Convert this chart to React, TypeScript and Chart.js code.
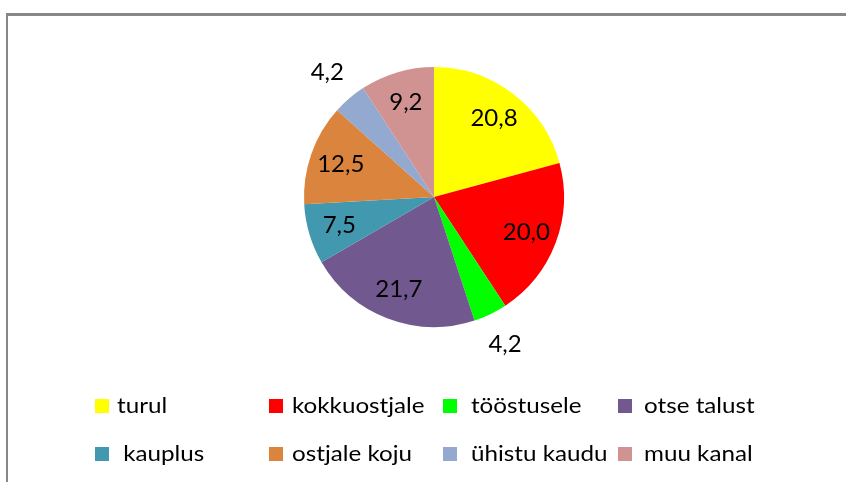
import React, { useEffect, useRef } from "react";
import { Chart, registerables } from "chart.js";

Chart.register(...registerables);

const categories = ["turul", "kokkuostjale", "tööstusele", "otse talust", " kauplus", "ostjale koju", "ühistu kaudu", "muu kanal"];
const shares = [20.8, 20.0, 4.2, 21.7, 7.5, 12.5, 4.2, 9.2];
const sliceColors = ["#FFFF00", "#FF0000", "#00FF00", "#71588F", "#4198AF", "#DB843D", "#93A9CF", "#D19392"];

// layout constants
const LEGEND_BOX_X = [95, 269, 443, 618];
const LEGEND_TEXT_X = [117, 292, 471, 644];
const LEGEND_BASELINE = [413, 461];
const BOX = 14;
const FONT = "Lato, 'Open Sans', sans-serif";

function drawText(ctx: CanvasRenderingContext2D, text: string, x: number, y: number, align: CanvasTextAlign, stretch: number) {
  ctx.save();
  ctx.translate(x, y);
  ctx.scale(stretch, 1);
  ctx.textAlign = align;
  ctx.fillText(text, 0, 0);
  ctx.restore();
}

const framePlugin = {
  id: "frame",
  beforeDraw(chart: any) {
    const ctx = chart.ctx as CanvasRenderingContext2D;
    ctx.save();
    ctx.fillStyle = "#FFFFFF";
    ctx.fillRect(0, 0, chart.width, chart.height);
    ctx.fillStyle = "#878787";
    ctx.fillRect(6, 13, chart.width - 6, 3);
    ctx.fillRect(6, 13, 2, chart.height - 13);
    ctx.restore();
  },
};

const labelPlugin = {
  id: "sliceLabels",
  afterDatasetsDraw(chart: any) {
    const ctx = chart.ctx as CanvasRenderingContext2D;
    const meta = chart.getDatasetMeta(0);
    const values = chart.data.datasets[0].data as number[];
    ctx.save();
    ctx.fillStyle = "#000000";
    ctx.font = `24px ${FONT}`;
    ctx.textBaseline = "middle";
    meta.data.forEach((arc: any, i: number) => {
      const mid = (arc.startAngle + arc.endAngle) / 2;
      const v = values[i];
      const f = v < 5 ? 1.26 : 0.76;
      const r = arc.outerRadius * f;
      const x = arc.x + Math.cos(mid) * r;
      const y = arc.y + Math.sin(mid) * r;
      drawText(ctx, v.toFixed(1).replace(".", ","), x, y, "center", 1.0);
    });
    ctx.restore();
  },
};

const legendPlugin = {
  id: "gridLegend",
  afterDraw(chart: any) {
    const ctx = chart.ctx as CanvasRenderingContext2D;
    const labels = chart.data.labels as string[];
    const cols = chart.data.datasets[0].backgroundColor as string[];
    ctx.save();
    ctx.font = `22px ${FONT}`;
    ctx.textBaseline = "alphabetic";
    labels.forEach((lab, i) => {
      const c = i % 4;
      const row = Math.floor(i / 4);
      const base = LEGEND_BASELINE[row];
      ctx.fillStyle = cols[i];
      ctx.fillRect(LEGEND_BOX_X[c], base - BOX, BOX, BOX);
      ctx.fillStyle = "#000000";
      drawText(ctx, lab, LEGEND_TEXT_X[c], base, "left", 1.1);
    });
    ctx.restore();
  },
};

export default function App() {
  const ref = useRef<HTMLCanvasElement | null>(null);
  useEffect(() => {
    if (!ref.current) return;
    const chart = new Chart(ref.current, {
      type: "pie",
      data: {
        labels: categories,
        datasets: [
          {
            data: shares,
            backgroundColor: sliceColors,
            borderWidth: 0,
          },
        ],
      },
      options: {
        responsive: false,
        animation: false,
        layout: { padding: { top: 67, bottom: 155, left: 22, right: 0 } },
        plugins: {
          legend: { display: false },
          tooltip: { enabled: false },
        },
      },
      plugins: [framePlugin, labelPlugin, legendPlugin],
    });
    return () => chart.destroy();
  }, []);
  return (
    <div style={{ position: "absolute", left: 0, top: 0, width: 846, height: 482 }}>
      <canvas ref={ref} width={846} height={482} style={{ display: "block" }} />
    </div>
  );
}
